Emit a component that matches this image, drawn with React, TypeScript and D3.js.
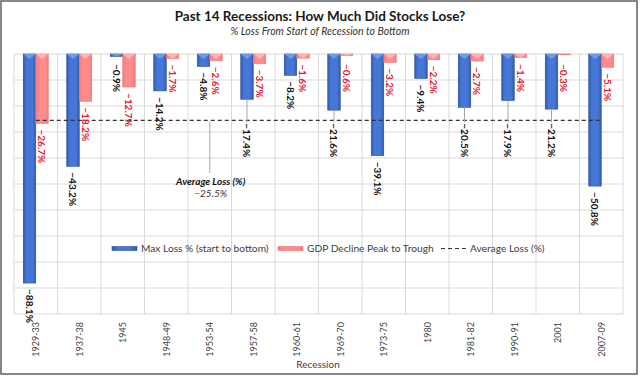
import React from "react";
import * as d3 from "d3";

const categories = ["1929-33","1937-38","1945","1948-49","1953-54","1957-58","1960-61","1969-70","1973-75","1980","1981-82","1990-91","2001","2007-09"];
const maxLoss = [-88.1,-43.2,-0.9,-14.2,-4.8,-17.4,-8.2,-21.6,-39.1,-9.4,-20.5,-17.9,-21.2,-50.8];
const gdpDecline = [-26.7,-18.2,-12.7,-1.7,-2.6,-3.7,-1.6,-0.6,-3.2,-2.2,-2.7,-1.4,-0.3,-5.1];
const averageLoss = -25.5;
const seriesNames = ["Max Loss % (start to bottom)", "GDP Decline Peak to Trough", "Average Loss (%)"];
const yDomain = [-100, 0];

const W = 640, H = 377;
const FONT = "Lato, Carlito, Calibri, 'Noto Sans', sans-serif";

export default function App() {
  const plot = { left: 14, right: 623, top: 54, bottom: 314 };
  const x = d3.scaleBand<string>().domain(categories).range([plot.left, plot.right]).padding(0);
  const inner = d3.scaleBand<string>().domain(["max", "gdp"]).range([0, x.bandwidth()]).paddingInner(0).paddingOuter(0.74);
  const y = d3.scaleLinear().domain(yDomain).range([plot.bottom, plot.top]);
  const fmt = (v: number) => d3.format(".1f")(v) + "%";
  const avgY = y(averageLoss);
  const bw = inner.bandwidth();
  const LABEL_LEN = 27;
  const GAP = 6;

  const bar = (cat: string, key: string, v: number, i: number) => {
    const x0 = (x(cat) as number) + (inner(key) as number);
    const y0 = y(0), y1 = y(v);
    const h = y1 - y0;
    const tri = Math.min(5, h);
    const isMax = key === "max";
    return (
      <g key={key + i}>
        <rect x={x0} y={y0} width={bw} height={h} fill={isMax ? "url(#gBlue)" : "url(#gRed)"} stroke={isMax ? "#2a4d92" : "#ee7777"} strokeWidth={0.6} />
        {h > 1 && (
          <path d={`M${x0},${y0}L${x0 + bw},${y0}L${x0 + bw / 2},${y0 + tri}Z`} fill={isMax ? "#6e9be6" : "#ffb3b3"} />
        )}
      </g>
    );
  };

  const label = (cat: string, key: string, v: number, i: number) => {
    const cx = (x(cat) as number) + (inner(key) as number) + bw / 2;
    const end = y(v);
    let top = Math.max(end + GAP, 64);
    let leader = false;
    if (key === "max" && top < avgY && top + LABEL_LEN > avgY + 6) {
      top = avgY + 3;
      leader = true;
    }
    const isMax = key === "max";
    return (
      <g key={"l" + key + i}>
        {leader && <line x1={cx} x2={cx} y1={end} y2={top - 1} stroke="#a6a6a6" strokeWidth={1} />}
        <text transform={`translate(${cx},${top}) rotate(90)`} textAnchor="start" dominantBaseline="central"
          fontFamily={FONT} fontSize={10} fontWeight="bold" fill={isMax ? "#111" : "#e3202c"}>{fmt(v)}</text>
      </g>
    );
  };

  const annotCat = categories[4];
  const annotX = (x(annotCat) as number) + x.bandwidth() / 2;

  return (
    <svg width={W} height={H} style={{ position: "absolute", left: 0, top: 0, background: "#fff" }}>
      <defs>
        <linearGradient id="gBlue" x1="0" x2="1" y1="0" y2="0">
          <stop offset="0%" stopColor="#2f5bb0" />
          <stop offset="25%" stopColor="#4677d6" />
          <stop offset="75%" stopColor="#4677d6" />
          <stop offset="100%" stopColor="#2f5bb0" />
        </linearGradient>
        <linearGradient id="gRed" x1="0" x2="1" y1="0" y2="0">
          <stop offset="0%" stopColor="#f57a7a" />
          <stop offset="25%" stopColor="#ff8c8c" />
          <stop offset="75%" stopColor="#ff8c8c" />
          <stop offset="100%" stopColor="#f57a7a" />
        </linearGradient>
      </defs>
      <rect x={1} y={1} width={636} height={373} fill="#fff" stroke="#5f5f5f" strokeWidth={1.5} />
      <text x={320} y={21} textAnchor="middle" fontFamily={FONT} fontSize={13.5} fontWeight="bold" fill="#1a1a1a">
        Past 14 Recessions: How Much Did Stocks Lose?
      </text>
      <text x={320} y={35} textAnchor="middle" fontFamily={FONT} fontSize={10.5} fontStyle="italic" fill="#333">
        % Loss From Start of Recession to Bottom
      </text>
      {/* gridlines */}
      <g>
        {y.ticks(10).map((t) => (
          <line key={"h" + t} x1={plot.left} x2={plot.right} y1={y(t)} y2={y(t)} stroke="#d9d9d9" strokeWidth={1} />
        ))}
        {categories.map((c) => (
          <line key={"v" + c} x1={x(c) as number} x2={x(c) as number} y1={plot.top} y2={plot.bottom} stroke="#d9d9d9" strokeWidth={1} />
        ))}
        <line x1={plot.right} x2={plot.right} y1={plot.top} y2={plot.bottom} stroke="#d9d9d9" strokeWidth={1} />
      </g>
      {/* legend */}
      <g fontFamily={FONT} fontSize={10.2} fill="#404040">
        <rect x={112} y={246.5} width={25} height={4} fill="url(#gBlue)" stroke="#2a4d92" strokeWidth={0.6} />
        <text x={141} y={252}>{seriesNames[0]}</text>
        <rect x={278} y={246.5} width={25} height={4} fill="url(#gRed)" stroke="#ee7777" strokeWidth={0.6} />
        <text x={307} y={252}>{seriesNames[1]}</text>
        <line x1={441} x2={467} y1={248.5} y2={248.5} stroke="#333" strokeWidth={1.2} strokeDasharray="4,3" />
        <text x={470} y={252}>{seriesNames[2]}</text>
      </g>
      {/* bars */}
      {categories.map((c, i) => bar(c, "max", maxLoss[i], i))}
      {categories.map((c, i) => bar(c, "gdp", gdpDecline[i], i))}
      {/* average line */}
      <line x1={(x(categories[0]) as number) + x.bandwidth() / 2} x2={(x(categories[categories.length - 1]) as number) + x.bandwidth() / 2}
        y1={avgY} y2={avgY} stroke="#333" strokeWidth={1.3} strokeDasharray="4,3" />
      {/* labels */}
      {categories.map((c, i) => label(c, "max", maxLoss[i], i))}
      {categories.map((c, i) => label(c, "gdp", gdpDecline[i], i))}
      {/* average annotation */}
      <line x1={annotX} x2={annotX} y1={avgY + 1} y2={173} stroke="#a6a6a6" strokeWidth={1} />
      <text x={annotX + 1} y={185} textAnchor="middle" fontFamily={FONT} fontSize={10} fontWeight="bold" fontStyle="italic" fill="#111">
        Average Loss (%)
      </text>
      <text x={annotX + 1} y={197} textAnchor="middle" fontFamily={FONT} fontSize={10} fontStyle="italic" fill="#333">
        {fmt(averageLoss)}
      </text>
      {/* category axis */}
      {categories.map((c) => (
        <text key={"c" + c} transform={`translate(${(x(c) as number) + x.bandwidth() / 2},${plot.bottom + 8}) rotate(-90)`}
          textAnchor="end" dominantBaseline="central" fontFamily={FONT} fontSize={9} fill="#404040">{c}</text>
      ))}
      <text x={318} y={368} textAnchor="middle" fontFamily={FONT} fontSize={10} fill="#404040">Recession</text>
    </svg>
  );
}
